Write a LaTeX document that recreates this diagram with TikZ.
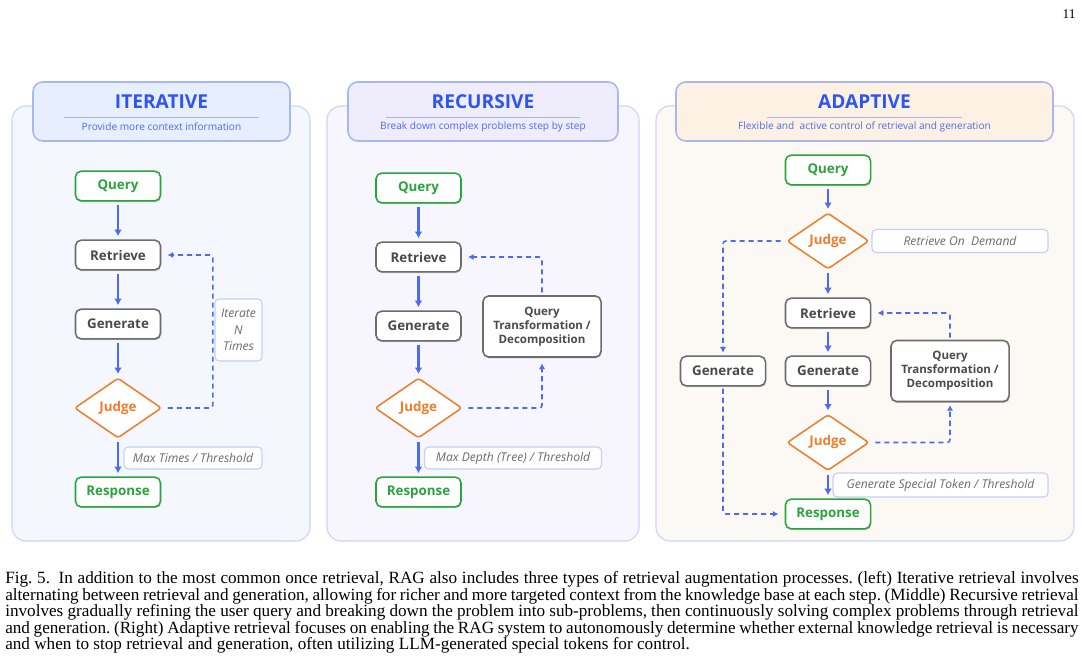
\documentclass[tikz,border=0pt]{standalone}
\usepackage{fontspec}
\setmainfont{Liberation Serif}
\newfontfamily\diagfont{Open Sans}
\usetikzlibrary{arrows.meta,shapes.geometric,shadows}

\definecolor{flowblue}{HTML}{4B6CF1}
\definecolor{titleblue}{HTML}{2F55F0}
\definecolor{hdrline}{HTML}{A8B6F3}
\definecolor{panelline}{HTML}{CAD5F7}
\definecolor{itbg}{HTML}{F4F7FE}
\definecolor{ithead}{HTML}{E7EEFD}
\definecolor{rebg}{HTML}{F7F6FE}
\definecolor{rehead}{HTML}{EFECFC}
\definecolor{adbg}{HTML}{FCF8F3}
\definecolor{adhead}{HTML}{FCF1E3}
\definecolor{qgreen}{HTML}{28A63B}
\definecolor{jorange}{HTML}{F07D2E}
\definecolor{stepgray}{HTML}{6C6C6C}
\definecolor{textgray}{HTML}{4A4A4A}
\definecolor{notegray}{HTML}{6A6A6A}
\definecolor{noteline}{HTML}{C6D0F7}

\begin{document}
\begin{tikzpicture}[
  x=0.025cm, y=-0.025cm,
  >=Latex,
  every node/.style={font=\diagfont},
  panel/.style={draw=panelline, line width=0.8pt, rounded corners=10pt},
  header/.style={draw=hdrline, line width=1.1pt, rounded corners=7pt},
  title/.style={text=titleblue, font=\diagfont\bfseries\fontsize{13.6}{15}\selectfont},
  subtitle/.style={text=flowblue, font=\diagfont\fontsize{7.2}{8}\selectfont},
  flowbox/.style={rounded corners=4pt, draw=stepgray, line width=1.1pt, fill=white, minimum width=2.125cm, minimum height=0.74cm, inner sep=0pt, text=textgray, font=\diagfont\bfseries\fontsize{9.5}{12}\selectfont, drop shadow={shadow xshift=0.5pt, shadow yshift=-1pt, opacity=0.2, fill=black}},
  endbox/.style={flowbox, draw=qgreen, text=qgreen},
  qtbox/.style={flowbox, minimum width=2.95cm, minimum height=1.525cm, align=center, font=\diagfont\bfseries\fontsize{8.2}{10}\selectfont},
  judge/.style={diamond, aspect=1.45, draw=jorange, line width=1.1pt, fill=white, rounded corners=2pt, minimum width=2.175cm, minimum height=1.5cm, inner sep=0pt, text=jorange, font=\diagfont\bfseries\fontsize{9.5}{12}\selectfont},
  note/.style={rounded corners=3pt, draw=noteline, line width=0.8pt, fill=white, inner sep=0pt, text=notegray, font=\diagfont\itshape\fontsize{8.6}{11.7}\selectfont},
  flow/.style={-{Latex[length=4.5pt,width=5.5pt]}, draw=flowblue, line width=1.8pt, shorten >=2.4pt, shorten <=2.4pt},
  back/.style={-{Latex[length=4pt,width=4.5pt]}, draw=flowblue, line width=1.1pt, dash pattern=on 3.6pt off 2.8pt, rounded corners=2pt, shorten >=4.5pt, shorten <=4pt}
]
\useasboundingbox (0,0) rectangle (1082,660);
\fill[white] (0,0) rectangle (1082,660);

% page number
\node[font=\rmfamily\fontsize{9.5}{11}\selectfont] (pageno) at (1069,14) {11};

% panels
\draw[panel, fill=itbg] (12,106) rectangle (310,541);
\draw[header, fill=ithead] (33,82) rectangle (290,141);
\draw[panel, fill=rebg] (327,106) rectangle (639,541);
\draw[header, fill=rehead] (348,82) rectangle (618,141);
\draw[panel, fill=adbg] (656,106) rectangle (1074,541);
\draw[header, fill=adhead] (676,82) rectangle (1053,141);

% headers
\node[title] (t1) at (161.5,102) {ITERATIVE};
\draw[hdrline, line width=0.8pt] (64,117.3) -- (259,117.3);
\node[subtitle] (s1) at (161.5,126.5) {Provide more context information};
\node[title] (t2) at (483,102) {RECURSIVE};
\draw[hdrline, line width=0.8pt] (386,117.3) -- (580,117.3);
\node[subtitle] (s2) at (483,126.5) {Break down complex problems step by step};
\node[title] (t3) at (864.5,102) {ADAPTIVE};
\draw[hdrline, line width=0.8pt] (767,117.3) -- (962,117.3);
\node[subtitle] (s3) at (864.5,126.5) {Flexible and\ \ active control of retrieval and generation};

% iterative
\node[endbox] (q1) at (118,186) {Query};
\node[flowbox] (r1) at (118,255) {Retrieve};
\node[flowbox] (g1) at (118,324) {Generate};
\node[judge] (j1) at (118,408) {Judge};
\node[endbox] (a1) at (118,492) {Response};
\node[note, minimum width=1.175cm, minimum height=1.55cm, align=center] (n1) at (238.5,330) {Iterate\\N\\Times};
\node[note, minimum width=3.45cm, minimum height=0.55cm] (m1) at (193,458) {Max Times / Threshold};
\draw[flow] (q1) -- (r1);
\draw[flow] (r1) -- (g1);
\draw[flow] (g1) -- (j1);
\draw[flow] (j1) -- (a1);
\draw[back] (j1.east) -- ++(50.5,0) |- (r1.east);

% recursive
\node[endbox] (q2) at (418.5,188) {Query};
\node[flowbox] (r2) at (418.5,257) {Retrieve};
\node[flowbox] (g2) at (418.5,326) {Generate};
\node[judge] (j2) at (418.5,408) {Judge};
\node[endbox] (a2) at (418.5,492) {Response};
\node[qtbox] (qt2) at (542,326.5) {Query\\Transformation /\\Decomposition};
\node[note, minimum width=4.425cm, minimum height=0.55cm] (m2) at (513,458) {Max Depth (Tree) / Threshold};
\draw[flow] (q2) -- (r2);
\draw[flow] (r2) -- (g2);
\draw[flow] (g2) -- (j2);
\draw[flow] (j2) -- (a2);
\draw[back, shorten <=2pt] (qt2.north) |- (r2.east);
\draw[back, shorten >=4pt] (j2.east) -| (qt2.south);

% adaptive
\node[endbox] (q3) at (828,170) {Query};
\node[judge, minimum width=2.05cm, minimum height=1.4cm] (j3) at (828,241) {Judge};
\node[note, minimum width=4.4cm, minimum height=0.575cm] (d3) at (960,241) {Retrieve On\ \ Demand};
\node[flowbox] (r3) at (828,313) {Retrieve};
\node[flowbox] (g3) at (828,371) {Generate};
\node[flowbox] (gl3) at (723,371) {Generate};
\node[qtbox] (qt3) at (950,371) {Query\\Transformation /\\Decomposition};
\node[judge, minimum width=2.05cm, minimum height=1.4cm] (k3) at (828,442.5) {Judge};
\node[note, minimum width=5.375cm, minimum height=0.6cm] (m3) at (940.5,485) {Generate Special Token / Threshold};
\node[endbox] (a3) at (828,514) {Response};
\draw[flow] (q3) -- (j3);
\draw[flow] (j3) -- (r3);
\draw[flow] (r3) -- (g3);
\draw[flow] (g3) -- (k3);
\draw[flow] (k3) -- (a3);
\draw[back, shorten >=2pt] (j3.west) -| (gl3.north);
\draw[back, shorten <=1.5pt] (gl3.south) |- (a3.west);
\draw[back, shorten <=1.5pt] (qt3.north) |- (r3.east);
\draw[back, shorten >=2pt] (k3.east) -| (qt3.south);

% caption
\begin{scope}[every node/.style={anchor=base west, inner sep=0pt, font=\rmfamily\frenchspacing\fontsize{12.2}{14}\selectfont}]
\node (c1) at (5,583.5) {\makebox[26.825cm][s]{Fig.~5.\enspace In addition to the most common once retrieval, RAG also includes three types of retrieval augmentation processes. (left) Iterative retrieval involves}};
\node (c2) at (5,600.1) {\makebox[26.825cm][s]{alternating between retrieval and generation, allowing for richer and more targeted context from the knowledge base at each step. (Middle) Recursive retrieval}};
\node (c3) at (5,616.7) {\makebox[26.825cm][s]{involves gradually refining the user query and breaking down the problem into sub-problems, then continuously solving complex problems through retrieval}};
\node (c4) at (5,633.3) {\makebox[26.825cm][s]{and generation. (Right) Adaptive retrieval focuses on enabling the RAG system to autonomously determine whether external knowledge retrieval is necessary}};
\node (c5) at (5,649.9) {and when to stop retrieval and generation, often utilizing LLM-generated special tokens for control.};
\end{scope}
\end{tikzpicture}
\end{document}
